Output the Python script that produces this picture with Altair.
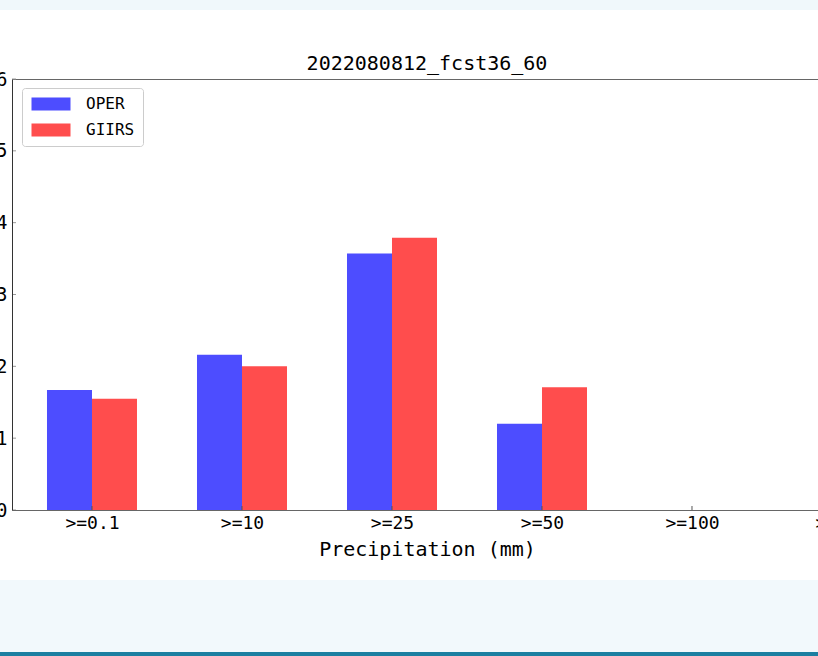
import json
import altair as alt
import pandas as pd

# Threshold classes and scores for the two experiments
categories = [">=0.1", ">=10", ">=25", ">=50", ">=100", ">=250"]
oper = [1.67, 2.16, 3.57, 1.20, 0.0, 0.0]
giirs = [1.55, 2.00, 3.79, 1.71, 0.0, 0.0]
series_names = ["OPER", "GIIRS"]
series_colors = ["#4d4dff", "#ff4d4d"]
y_ticks = [0, 1, 2, 3, 4, 5, 6]
title_text = "2022080812_fcst36_60"

FONT = "DejaVu Sans Mono"
BAR_W = 0.3  # width of one bar in category units

rows = []
for i, cat in enumerate(categories):
    rows.append({"idx": i, "cat": cat, "series": "OPER", "value": oper[i]})
    rows.append({"idx": i, "cat": cat, "series": "GIIRS", "value": giirs[i]})
df = pd.DataFrame(rows)

xscale = alt.Scale(domain=[-0.5333, 5], range=[0, 830], nice=False,
                   zero=False, padding=0)
yscale = alt.Scale(domain=[0, 6], nice=False, padding=0)

yaxis = alt.Axis(
    values=y_ticks, title=None, grid=False, ticks=False,
    labelFontSize=19, labelPadding=5, labelColor="black",
    domainColor="#333333", domainWidth=1, zindex=1,
)

bottom_axis = alt.Axis(
    values=list(range(len(categories))),
    labelExpr=f"{json.dumps(categories)}[datum.value]",
    title="Precipitation (mm)", grid=False, ticks=False,
    labelFontSize=18, labelPadding=18, labelBaseline="alphabetic",
    labelColor="black", labelFlush=False, labelOverlap=False,
    titleFontSize=20, titleFontWeight="normal", titleColor="black",
    titleBaseline="alphabetic", titleY=45,
    domainColor="#666666", domainWidth=1, zindex=1,
)

top_axis = alt.Axis(
    orient="top", labels=False, ticks=False, title=None, grid=False,
    domainColor="#666666", domainWidth=1,
)

bars = (
    alt.Chart(df)
    .transform_calculate(
        x0=f"datum.series == 'OPER' ? datum.idx - {BAR_W} : datum.idx",
        x1=f"datum.series == 'OPER' ? datum.idx : datum.idx + {BAR_W}",
    )
    .mark_bar(strokeWidth=0, orient="vertical")
    .encode(
        x=alt.X("x0:Q", scale=xscale, axis=bottom_axis),
        x2="x1:Q",
        y=alt.Y("value:Q", scale=yscale, axis=yaxis, stack=None),
        y2=alt.datum(0),
        color=alt.Color(
            "series:N",
            scale=alt.Scale(domain=series_names, range=series_colors),
            legend=alt.Legend(
                title=None, orient="none", legendX=10, legendY=9,
                padding=8, strokeColor="#cccccc", fillColor="white",
                cornerRadius=3, symbolType="M-3,-1H3V1H-3Z",
                symbolSize=169, symbolStrokeWidth=0, symbolOpacity=1,
                symbolOffset=13, labelOffset=27, labelFontSize=16,
                labelColor="black", rowPadding=10, zindex=1,
            ),
        ),
    )
)

# Inward tick marks on the category axis, plus the top spine
xticks = (
    alt.Chart(pd.DataFrame({"idx": list(range(len(categories)))}))
    .mark_rule(color="#555555", strokeWidth=1)
    .encode(
        x=alt.X("idx:Q", scale=xscale, axis=top_axis),
        y=alt.value(427),
        y2=alt.value(431),
    )
)

# Inward tick marks on the value axis
yticks = (
    alt.Chart(pd.DataFrame({"value": y_ticks}))
    .mark_rule(color="#999999", strokeWidth=1)
    .encode(
        y=alt.Y("value:Q", scale=yscale, axis=yaxis),
        x=alt.value(0),
        x2=alt.value(4),
    )
)

# Figure title
title = (
    alt.Chart(pd.DataFrame({"t": [title_text]}))
    .mark_text(fontSize=20, font=FONT, color="black", align="center",
               baseline="alphabetic")
    .encode(text="t:N", x=alt.value(415), y=alt.value(-9.5))
)

# Page bands around the figure
one = pd.DataFrame({"k": [0]})
top_band = alt.Chart(one).mark_rect(color="#f0f8fb").encode(
    x=alt.value(-12), x2=alt.value(806), y=alt.value(-79), y2=alt.value(-69)
)
bottom_band = alt.Chart(one).mark_rect(color="#f2f9fc").encode(
    x=alt.value(-12), x2=alt.value(806), y=alt.value(501), y2=alt.value(573)
)
teal_line = alt.Chart(one).mark_rect(color="#1b7fa1").encode(
    x=alt.value(-12), x2=alt.value(806), y=alt.value(573), y2=alt.value(577)
)

chart = (
    alt.layer(top_band, bottom_band, teal_line, bars, xticks, yticks, title)
    .resolve_axis(x="independent")
    .properties(
        width=806,
        height=431,
        background="white",
        padding={"left": 12, "top": 79, "right": 0, "bottom": 146},
        autosize=alt.AutoSizeParams(type="none"),
    )
    .configure(font=FONT)
    .configure_view(stroke=None)
)

chart.save("out.html", embed_options={"renderer": "svg", "actions": False})
